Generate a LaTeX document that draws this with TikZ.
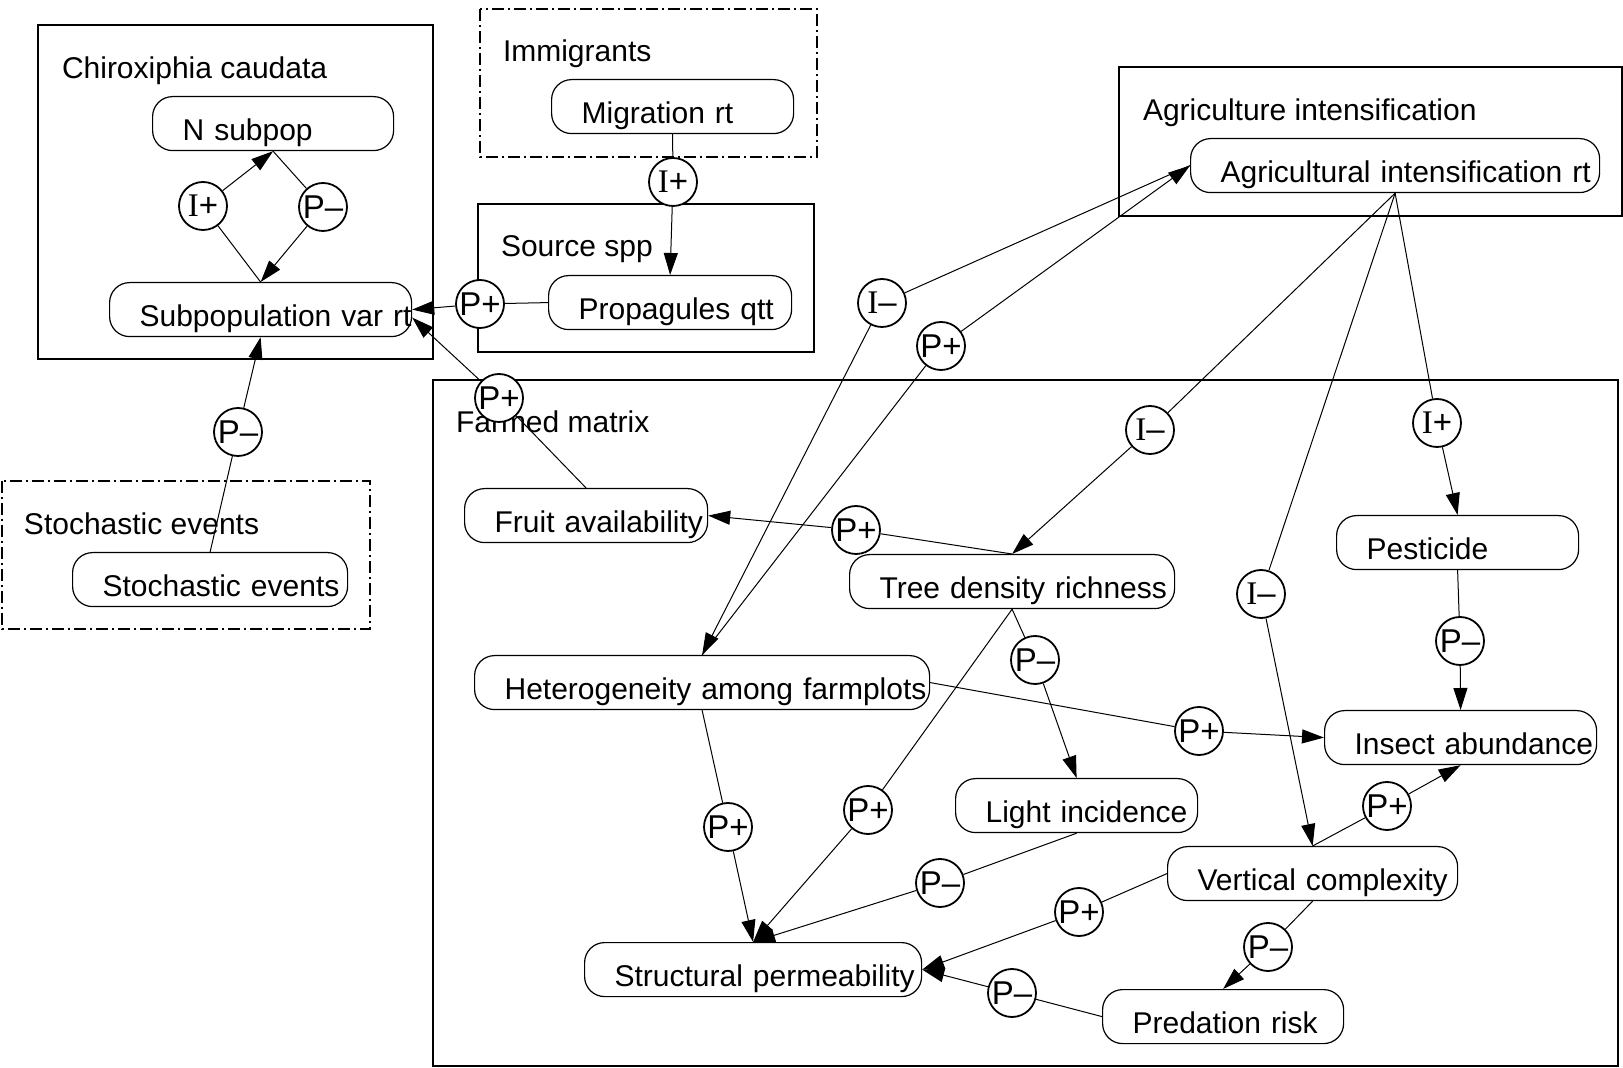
\documentclass[tikz,border=0pt]{standalone}
\usepackage{fontspec}
\setmainfont{Liberation Sans}
\newfontfamily\serifI{Liberation Serif}
\usepackage{tikz}
\usetikzlibrary{arrows.meta}
\definecolor{ink}{HTML}{000000}
\newcommand{\Iletter}{{\serifI I}}
\tikzset{
  frame/.style     = {draw=ink, line width=0.6pt},
  dashframe/.style = {draw=ink, line width=0.6pt, dash pattern=on 6pt off 2pt on 1pt off 2pt},
  grouplab/.style  = {font=\fontsize{15}{18}\selectfont, text=ink, anchor=base west, inner sep=0pt, outer sep=0pt},
  var/.style       = {draw=ink, line width=0.6pt, fill=white, rounded corners=10pt, anchor=north west,
                      text width=#1*0.5pt, align=left, inner xsep=0pt, inner ysep=0pt, minimum height=27pt,
                      text height=17.5pt, text depth=1pt, font=\fontsize{15}{18}\selectfont, text=ink,
                      execute at begin node={\hspace*{15pt}}},
  sign/.style      = {circle, draw=ink, line width=0.9pt, fill=white, minimum size=24pt, inner sep=0pt,
                      font=\fontsize{16.5}{18}\selectfont, text=ink},
  link/.style      = {draw=ink, line width=0.5pt},
  flow/.style      = {link, -{Triangle[length=11pt,width=7pt]}},
}

\begin{document}
\begin{tikzpicture}[x=0.5pt,y=-0.5pt]
\path[use as bounding box] (0,0) rectangle (1623,1068);

% ---- groups -------------------------------------------------------------
\draw[frame]     (38,25)    rectangle (433,359);
\draw[dashframe] (480,9)    rectangle (817,157);
\draw[frame]     (478,204)  rectangle (814,352);
\draw[dashframe] (2,481)    rectangle (370,629);
\draw[frame]     (1119,67)  rectangle (1622,216);
\draw[frame]     (433,380)  rectangle (1618,1066);

\node[grouplab] (chirolab)  at (62,79)    {Chiroxiphia caudata};
\node[grouplab] (immilab)   at (503,62)   {Immigrants};
\node[grouplab] (sourcelab) at (501,257)  {Source spp};
\node[grouplab] (stochlab)  at (24,535)   {Stochastic events};
\node[grouplab] (agrilab)   at (1143,121) {Agriculture intensification};
\node[grouplab] (farmlab)   at (456,433)  {Farmed matrix};

% ---- quantities and rates -----------------------------------------------
\node[var=241] (nsub)   at (152,96)   {N subpop};
\node[var=302] (vrt)    at (109,282)  {Subpopulation var rt};
\node[var=242] (mig)    at (551,79)   {Migration rt};
\node[var=243] (prop)   at (548,275)  {Propagules qtt};
\node[var=275] (stoch)  at (72,552)   {Stochastic events};
\node[var=409] (agri)   at (1190,138) {Agricultural intensification rt};
\node[var=243] (fruit)  at (464,488)  {Fruit availability};
\node[var=325] (tree)   at (849,554)  {Tree density richness};
\node[var=455] (het)    at (474,655)  {Heterogeneity among farmplots};
\node[var=242] (light)  at (955,778)  {Light incidence};
\node[var=242] (pest)   at (1336,515) {Pesticide};
\node[var=272] (insect) at (1324,710) {Insect abundance};
\node[var=290] (vert)   at (1167,846) {Vertical complexity};
\node[var=337] (struct) at (584,942)  {Structural permeability};
\node[var=241] (pred)   at (1102,989) {Predation risk};

% ---- influences (I) and proportionalities (P) ----------------------------
\foreach \nm/\x/\y/\sg in {%
  ipN/203/206/{\Iletter+}, pmN/323/207/{P–},
  ipM/673/182/{\Iletter+}, ppP/480/304/{P+},
  pmS/238/432/{P–},        ppF/499/398/{P+},
  imH/882/303/{\Iletter–}, ppH/941/346/{P+},
  imT/1150/430/{\Iletter–}, ipP/1437/423/{\Iletter+}, imV/1261/594/{\Iletter–},
  ppTF/856/530/{P+}, pmTL/1035/660/{P–}, ppTS/868/810/{P+},
  ppHI/1199/731/{P+}, pmPI/1460/641/{P–}, ppHS/728/827/{P+},
  pmLS/940/883/{P–}, ppVI/1387/806/{P+}, ppVS/1079/912/{P+},
  pmVP/1268/947/{P–}, pmRS/1012/993/{P–}} {
  \node[sign] (\nm) at (\x,\y) {\sg};
}

\coordinate (vrtlow) at ([yshift=-4pt]vrt.east);

\foreach \from/\via/\to in {%
  vrt.north/ipN/nsub.south, nsub.south/pmN/vrt.north,
  mig.south/ipM/prop.north, prop.west/ppP/vrt.east,
  stoch.north/pmS/vrt.south, fruit.north/ppF/vrtlow,
  agri.west/imH/het.north, het.north/ppH/agri.west,
  agri.south/imT/tree.north, agri.south/ipP/pest.north, agri.south/imV/vert.north,
  tree.north/ppTF/fruit.east, tree.south/pmTL/light.north, tree.south/ppTS/struct.north,
  het.east/ppHI/insect.west, pest.south/pmPI/insect.north, het.south/ppHS/struct.north,
  light.south/pmLS/struct.north, vert.north/ppVI/insect.south, vert.west/ppVS/struct.east,
  vert.south/pmVP/pred.north, pred.west/pmRS/struct.east} {
  \draw[link] (\from) -- (\via);
  \draw[flow] (\via) -- (\to);
}

\end{tikzpicture}
\end{document}
